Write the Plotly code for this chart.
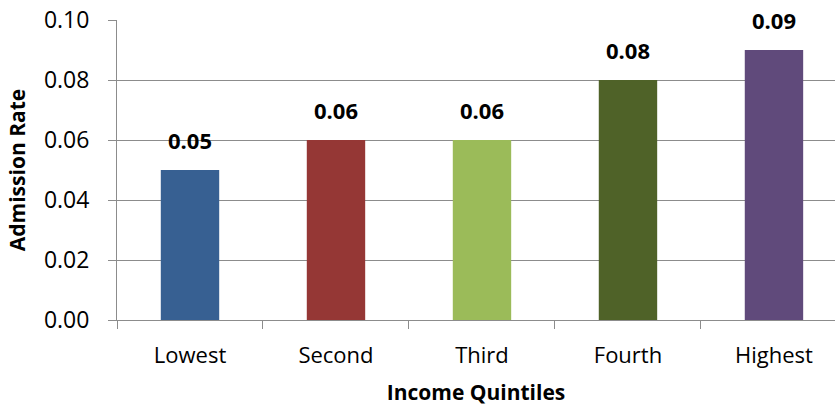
import plotly.graph_objects as go

categories = ["Lowest", "Second", "Third", "Fourth", "Highest"]
values = [0.05, 0.06, 0.06, 0.08, 0.09]
labels = ["0.05", "0.06", "0.06", "0.08", "0.09"]
colors = ["#376092", "#953735", "#9BBB59", "#4F6228", "#604A7B"]
y_ticks = [0.00, 0.02, 0.04, 0.06, 0.08, 0.10]
y_tick_text = ["0.00", "0.02", "0.04", "0.06", "0.08", "0.10"]

FONT = "Open Sans"

fig = go.Figure()
fig.add_trace(go.Bar(
    x=categories, y=values, marker=dict(color=colors, line=dict(width=0)),
    width=0.40, showlegend=False, hoverinfo="skip",
))

for c, v, t in zip(categories, values, labels):
    fig.add_annotation(x=c, y=v, text="<b>%s</b>" % t, showarrow=False,
                       yanchor="bottom", yshift=13,
                       font=dict(family=FONT, size=22, color="#000000"))

fig.update_layout(
    width=835, height=410,
    margin=dict(l=117, r=0, t=20, b=90),
    paper_bgcolor="white", plot_bgcolor="white",
    font=dict(family=FONT, color="#000000"),
)
fig.update_xaxes(
    range=[-0.5, 4.418], type="category",
    showline=True, linecolor="#8C8C8C", linewidth=1,
    ticks="outside", tickson="boundaries", ticklen=8, tickcolor="#8C8C8C",
    ticklabelstandoff=16,
    tickfont=dict(family=FONT, size=22, color="#000000"),
    showgrid=False,
    title=dict(text="<b>Income Quintiles</b>", font=dict(family=FONT, size=21), standoff=16),
)
fig.update_yaxes(
    range=[0, 0.10], tickvals=y_ticks, ticktext=y_tick_text,
    showline=True, linecolor="#8C8C8C", linewidth=1,
    ticks="outside", ticklen=8, tickcolor="#8C8C8C",
    ticklabelstandoff=14,
    showgrid=True, gridcolor="#8C8C8C", gridwidth=1,
    zeroline=False,
    tickfont=dict(family=FONT, size=23, color="#000000"),
    title=dict(text="<b>Admission Rate</b>", font=dict(family=FONT, size=21), standoff=12),
)

fig.write_html("out.html")
